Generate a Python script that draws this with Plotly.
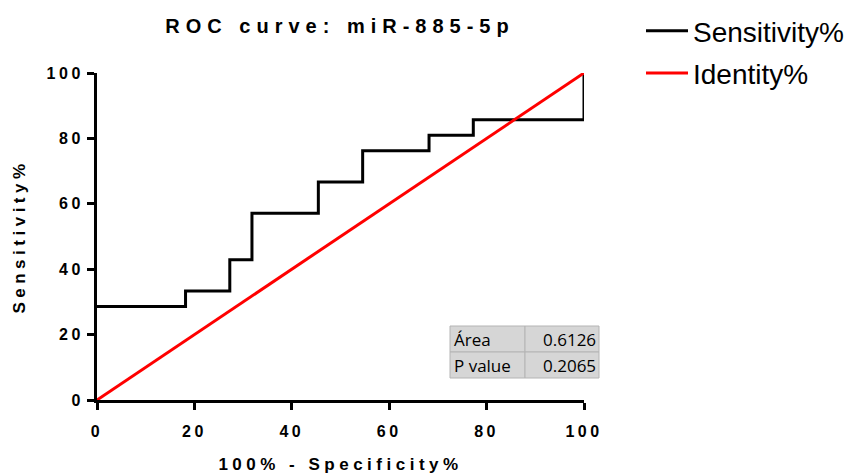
import plotly.graph_objects as go

# ROC data (100% - Specificity%, Sensitivity%)
roc_x = [0, 18.18, 27.27, 31.82, 45.45, 54.55, 68.18, 77.27, 100]
roc_y = [28.57, 33.33, 42.86, 57.14, 66.67, 76.19, 80.95, 85.71, 100]
ident_x = [0, 100]
ident_y = [0, 100]
tick_vals = [0, 20, 40, 60, 80, 100]
table_labels = ["Área", "P value"]
table_values = ["0.6126", "0.2065"]

BOLD = "Liberation Sans"
W, H = 849, 466  # page has an 8px body margin

fig = go.Figure()
fig.add_trace(go.Scatter(x=roc_x, y=roc_y, mode="lines", line_shape="hv",
                         line=dict(color="black", width=3), name="Sensitivity%",
                         legendgroup="a", cliponaxis=False))
fig.add_trace(go.Scatter(x=ident_x, y=ident_y, mode="lines",
                         line=dict(color="#ff0000", width=3), name="Identity%",
                         legendgroup="b", cliponaxis=False))

# paper coords from page pixels (plot area page x 97..584, y 73..400)
def px2x(p): return (p - 97) / 487
def py2y(p): return (400 - p) / 327

rows = [(326, 352), (352, 378)]
cols = [(450, 525), (525, 599)]
for i, (t, b) in enumerate(rows):
    for (l, r) in cols:
        fig.add_shape(type="rect", xref="paper", yref="paper",
                      x0=px2x(l), x1=px2x(r), y0=py2y(b), y1=py2y(t),
                      fillcolor="#d6d6d6", line=dict(color="#b4b4b4", width=1), layer="above")
    fig.add_annotation(xref="paper", yref="paper", x=px2x(452), y=py2y((t + b) / 2),
                       text=table_labels[i], showarrow=False, xanchor="left", yanchor="middle",
                       font=dict(family="Open Sans", size=17, color="black"))
    fig.add_annotation(xref="paper", yref="paper", x=px2x(598), y=py2y((t + b) / 2),
                       text=table_values[i], showarrow=False, xanchor="right", yanchor="middle",
                       font=dict(family="Open Sans", size=17, color="black"))

axis_common = dict(range=[0, 100], showgrid=False, zeroline=False, showline=True,
                   linecolor="black", linewidth=3, ticks="outside", ticklen=7,
                   tickwidth=3, tickcolor="black", tickvals=tick_vals, automargin=False,
                   tickfont=dict(family=BOLD, size=16, color="black", weight="bold"))

fig.update_layout(
    width=W, height=H,
    margin=dict(l=89, r=273, t=65, b=74, autoexpand=False),
    paper_bgcolor="white", plot_bgcolor="white",
    title=dict(text="ROC curve: miR-885-5p", x=(340 - 8) / W, xanchor="center",
               y=1 - (26 - 8) / H, yanchor="middle",
               font=dict(family=BOLD, size=20, color="black", weight="bold")),
    xaxis=dict(**axis_common, ticklabelstandoff=8,
               title=dict(text="100% - Specificity%", standoff=25,
                          font=dict(family=BOLD, size=17, color="black", weight="bold"))),
    yaxis=dict(**axis_common,
               title=dict(text="Sensitivity%", standoff=28,
                          font=dict(family=BOLD, size=17, color="black", weight="bold"))),
    legend=dict(x=px2x(641), y=py2y(6), xanchor="left", yanchor="top",
                font=dict(family="Liberation Sans", size=28, color="black"),
                itemwidth=42,
                traceorder="grouped", tracegroupgap=3, bgcolor="rgba(0,0,0,0)"),
    showlegend=True,
)

post = """
var gd = document.getElementById('{plot_id}');
function spacing(){
  var set = function(sel, v){ document.querySelectorAll(sel).forEach(function(e){ e.style.letterSpacing = v; }); };
  set('.gtitle', '6px');
  set('.xtitle', '4.5px');
  set('.ytitle', '4.5px');
  set('.xtick text', '3.5px');
  set('.ytick text', '3.5px');
}
spacing();
if (gd && gd.on) { gd.on('plotly_afterplot', spacing); }
"""

fig.write_html("out.html", post_script=post)
